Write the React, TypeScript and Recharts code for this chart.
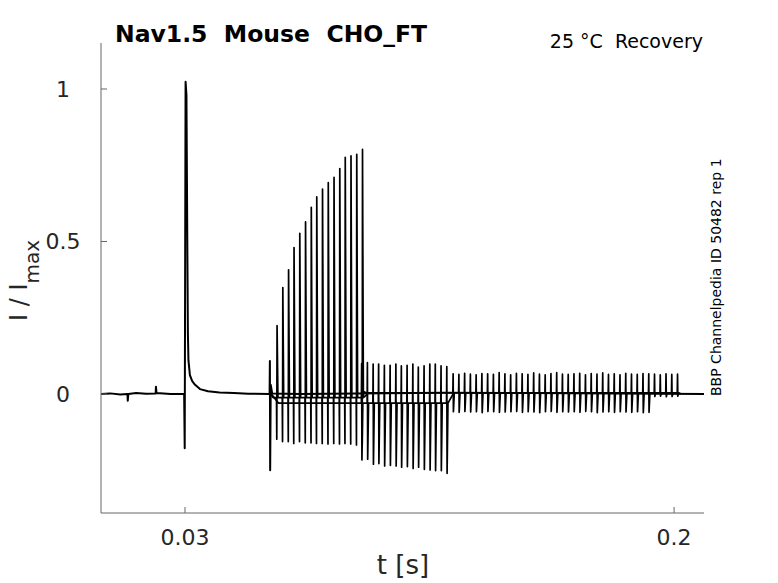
import { Line, LineChart, XAxis, YAxis } from 'recharts';

// recovery protocol, current normalised to the prepulse peak
const PRE_TIMES = [
  0.0008, 0.004, 0.0075, 0.01, 0.0101, 0.0103, 0.013, 0.0165, 0.0198, 0.0199, 0.0201, 0.025,
  0.0297, 0.0299, 0.0302, 0.0305, 0.0308, 0.031, 0.0312, 0.0317, 0.0325, 0.0335, 0.0352, 0.038,
  0.042, 0.047, 0.052, 0.0594, 0.0595, 0.0596, 0.0598, 0.0603, 0.07, 0.09, 0.12, 0.15, 0.18, 0.2104,
];
const PRE_VALUES = [
  0, 0.002, -0.002, 0, -0.022, 0, 0.003, 0.001, 0.002, 0.024, 0.003, 0,
  0, -0.178, 1.024, 0.98, 0.5, 0.2, 0.11, 0.062, 0.042, 0.03, 0.016, 0.009,
  0.005, 0.003, 0.001, 0, 0.108, -0.25, 0.03, 0.002, 0, 0.002, 0.004, 0.003, 0.002, 0,
];

const TEST_TIMES = [
  0.0619, 0.0639, 0.0659, 0.0678, 0.0698, 0.0718, 0.0738, 0.0757,
  0.0777, 0.0797, 0.0817, 0.0837, 0.0856, 0.0876, 0.0896, 0.0916,
];
const TEST_PEAKS = [
  0.224, 0.349, 0.407, 0.48, 0.527, 0.564, 0.612, 0.646,
  0.672, 0.693, 0.71, 0.739, 0.776, 0.781, 0.786, 0.802,
];
const TEST_DIPS = [
  -0.148, -0.156, -0.156, -0.162, -0.156, -0.16, -0.16, -0.162,
  -0.162, -0.164, -0.162, -0.164, -0.162, -0.164, -0.167, -0.166,
];

const END_TIMES = [
  0.0914, 0.0934, 0.0954, 0.0973, 0.0993, 0.1013, 0.1033, 0.1052,
  0.1072, 0.1092, 0.1111, 0.1131, 0.1151, 0.117, 0.119, 0.121,
];
const END_PEAKS = [
  0.1, 0.103, 0.098, 0.098, 0.094, 0.094, 0.098, 0.092,
  0.094, 0.098, 0.088, 0.092, 0.098, 0.098, 0.092, 0.09,
];
const END_DIPS = [
  -0.216, -0.214, -0.23, -0.228, -0.236, -0.234, -0.236, -0.24,
  -0.238, -0.244, -0.24, -0.247, -0.249, -0.251, -0.251, -0.26,
];

const LATE_TIMES = [
  0.1232, 0.1252, 0.1272, 0.1292, 0.1312, 0.1332, 0.1352, 0.1372, 0.1392, 0.1412,
  0.1432, 0.1452, 0.1472, 0.1492, 0.1512, 0.1532, 0.1552, 0.1572, 0.1592, 0.1612,
  0.1632, 0.1652, 0.1672, 0.1692, 0.1712, 0.1732, 0.1752, 0.1772, 0.1792, 0.1812,
  0.1832, 0.1852, 0.1872, 0.1892, 0.1912, 0.1932, 0.1952, 0.1972, 0.1992, 0.2012,
];
const LATE_PEAKS = [
  0.066, 0.064, 0.068, 0.065, 0.063, 0.067, 0.066, 0.064, 0.07, 0.066,
  0.063, 0.068, 0.066, 0.064, 0.069, 0.065, 0.063, 0.067, 0.07, 0.065,
  0.064, 0.066, 0.068, 0.063, 0.067, 0.065, 0.069, 0.064, 0.066, 0.063,
  0.068, 0.065, 0.064, 0.067, 0.066, 0.065, 0.063, 0.066, 0.064, 0.065,
];
const LATE_DIPS = [
  -0.058, -0.06, -0.057, -0.059, -0.058, -0.061, -0.057, -0.058, -0.06, -0.059,
  -0.058, -0.057, -0.06, -0.058, -0.059, -0.061, -0.058, -0.057, -0.06, -0.058,
  -0.059, -0.058, -0.06, -0.057, -0.058, -0.061, -0.059, -0.058, -0.06, -0.058,
  -0.059, -0.06, -0.058, -0.061, -0.06, -0.008, -0.007, -0.009, -0.008, -0.007,
];

const X_TICKS = [0.03, 0.2];
const Y_TICKS = [0, 0.5, 1];

type Pt = { t: number; i: number };

function spikes(times: number[], first: number[], second: number[], base: number): Pt[] {
  const pts: Pt[] = [];
  times.forEach((t, k) => {
    pts.push({ t: t - 0.0001, i: base });
    pts.push({ t, i: first[k] });
    pts.push({ t: t + 0.0001, i: second[k] });
    pts.push({ t: t + 0.0004, i: base });
  });
  return pts;
}

const preData: Pt[] = PRE_TIMES.map((t, k) => ({ t, i: PRE_VALUES[k] }));
const testData: Pt[] = [
  { t: 0.0598, i: 0 },
  { t: 0.0606, i: -0.012 },
  ...spikes(TEST_TIMES, TEST_DIPS, TEST_PEAKS, -0.012),
  { t: 0.0935, i: 0 },
];
const endData: Pt[] = [
  { t: 0.06, i: 0 },
  { t: 0.0625, i: -0.03 },
  ...spikes(END_TIMES, END_PEAKS, END_DIPS, -0.03),
  { t: 0.1232, i: 0 },
];
const lateData: Pt[] = [
  { t: 0.0916, i: 0.01 },
  { t: 0.093, i: 0.004 },
  ...spikes(LATE_TIMES, LATE_PEAKS, LATE_DIPS, 0.004),
  { t: 0.2025, i: 0 },
];

const FONT = 'DejaVu Sans';
const AXIS = '#666';
const INK = '#262626';

const XTick = (props: any) => {
  const { x, y, payload } = props;
  return (
    <g>
      <line x1={x} y1={y} x2={x} y2={y - 6} stroke={AXIS} />
      <text x={x} y={y + 32} textAnchor="middle" fontSize={22} fontFamily={FONT} fill={INK}>
        {String(payload.value)}
      </text>
    </g>
  );
};

const YTick = (props: any) => {
  const { x, y, payload } = props;
  return (
    <g>
      <line x1={x} y1={y} x2={x + 6} y2={y} stroke={AXIS} />
      <text x={63} y={y + 8} textAnchor="middle" fontSize={22} fontFamily={FONT} fill={INK}>
        {String(payload.value)}
      </text>
    </g>
  );
};

const series = [preData, testData, endData, lateData];

export default function App() {
  return (
    <div style={{ position: 'absolute', left: 0, top: 0, width: 778, height: 583, background: '#fff' }}>
      <LineChart width={778} height={583} margin={{ top: 43, right: 74, bottom: 40, left: 0 }}>
        <XAxis
          type="number"
          dataKey="t"
          domain={[0.0008, 0.2104]}
          ticks={X_TICKS}
          interval={0}
          allowDataOverflow
          height={30}
          tickSize={0}
          tickMargin={0}
          tickLine={false}
          axisLine={{ stroke: AXIS }}
          tick={<XTick />}
        />
        <YAxis
          type="number"
          dataKey="i"
          domain={[-0.3902, 1.1508]}
          ticks={Y_TICKS}
          interval={0}
          allowDataOverflow
          width={101}
          tickSize={0}
          tickMargin={0}
          tickLine={false}
          axisLine={{ stroke: AXIS }}
          tick={<YTick />}
        />
        {series.map((d, k) => (
          <Line
            key={k}
            data={d}
            dataKey="i"
            type="linear"
            stroke="#000"
            strokeWidth={k === 0 ? 2 : 1.7}
            strokeLinejoin="round"
            dot={false}
            activeDot={false}
            isAnimationActive={false}
          />
        ))}
        <text x={115} y={42} fontSize={23.5} fontWeight="bold" fontFamily={FONT} fill="#000" style={{ whiteSpace: 'pre' }}>
          {'Nav1.5  Mouse  CHO_FT'}
        </text>
        <text x={703} y={48} textAnchor="end" fontSize={19} fontFamily={FONT} fill="#000" style={{ whiteSpace: 'pre' }}>
          {'25 °C  Recovery'}
        </text>
        <text x={403} y={574} textAnchor="middle" fontSize={26} fontFamily={FONT} fill={INK}>
          t [s]
        </text>
        <text x={27} y={321} transform="rotate(-90 27 321)" fontSize={24} fontFamily={FONT} fill={INK} style={{ whiteSpace: 'pre' }}>
          {'I / I'}
          <tspan fontSize={20} dy={12}>max</tspan>
        </text>
        <text x={721} y={396} transform="rotate(-90 721 396)" fontSize={14} fontFamily={FONT} fill="#000">
          BBP Channelpedia ID 50482 rep 1
        </text>
      </LineChart>
    </div>
  );
}
